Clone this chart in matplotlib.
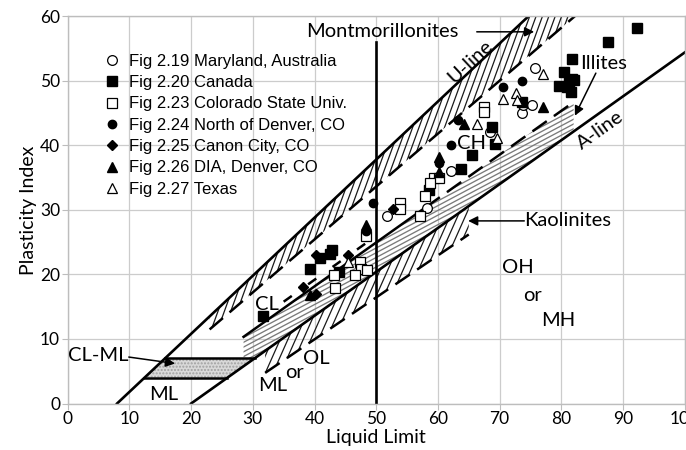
import numpy as np
import matplotlib.pyplot as plt
from matplotlib.patches import Polygon
from matplotlib.collections import LineCollection

plt.rcParams['font.family'] = ['Lato', 'DejaVu Sans']

# points: liquid limit / plasticity index
maryland_ll = [75.7, 73.6, 73.8, 75.2, 68.4, 62.2, 58.2, 51.7]
maryland_pi = [52.0, 45.0, 46.2, 46.2, 42.0, 36.0, 30.3, 29.0]

canada_ll = [92.3, 87.5, 81.8, 80.4, 81.7, 82.0, 79.7, 80.9, 81.5, 81.3, 73.6, 68.7, 69.3,
             65.5, 63.7, 58.6, 42.8, 42.5, 40.9, 39.3, 44.0, 31.7]
canada_pi = [58.2, 56.1, 53.4, 51.4, 50.3, 50.1, 49.2, 49.0, 48.3, 49.9, 46.8, 42.8, 40.2,
             38.5, 36.3, 33.1, 23.8, 23.2, 22.5, 20.8, 20.4, 13.6]

csu_ll = [67.4, 67.4, 59.3, 60.1, 58.7, 57.9, 57.1, 53.9, 53.9, 48.4, 47.4, 47.6, 46.6,
          48.5, 43.3, 43.2]
csu_pi = [46.0, 45.1, 34.9, 34.9, 34.1, 32.1, 29.1, 31.0, 30.2, 26.0, 22.0, 20.9, 19.9,
          20.7, 17.9, 19.9]

north_ll = [73.7, 70.6, 63.2, 62.2, 60.2, 49.5, 48.4]
north_pi = [50.0, 49.0, 44.0, 40.1, 37.2, 31.0, 26.8]

canon_ll = [52.8, 45.5, 40.2, 38.1, 40.2]
canon_pi = [30.1, 23.0, 23.0, 18.0, 16.9]

dia_ll = [77.0, 64.3, 60.2, 60.2, 48.4, 39.3]
dia_pi = [46.0, 43.3, 38.2, 35.8, 27.6, 16.8]

texas_ll = [77.0, 70.6, 72.7, 72.8, 66.3, 69.5, 45.5]
texas_pi = [51.1, 47.2, 48.1, 47.1, 43.3, 41.1, 21.9]

labels = ['Fig 2.19 Maryland, Australia', 'Fig 2.20 Canada', 'Fig 2.23 Colorado State Univ.',
          'Fig 2.24 North of Denver, CO', 'Fig 2.25 Canon City, CO', 'Fig 2.26 DIA, Denver, CO',
          'Fig 2.27 Texas']

# chart lines  PI = slope * (LL - ll0)
u_slope, u_ll0 = 0.9, 8.0
a_slope, a_ll0 = 0.68, 20.0
mont_slope, mont_ll0 = 0.82, 9.0
illite_slope, illite_ll0 = 0.68, 13.3
upper_slope, upper_ll0 = 0.68, 11.8
kao_slope, kao_ll0 = 0.65, 24.7
mont_range = (23.0, 82.2)
illite_range = (28.5, 82.0)
upper_range = (35.0, 50.0)
kao_range = (32.0, 65.0)
clml_pi = (4.0, 7.0)


def line(x, slope, ll0):
    return slope * (np.asarray(x) - ll0)


fig = plt.figure(figsize=(6.86, 4.5), dpi=100)
ax = fig.add_axes([0.0987, 0.1033, 0.8994, 0.8604])
ax.set_xlim(0, 100)
ax.set_ylim(0, 60)

# pixels per data unit, for the hatching
sx = 686 * 0.8994 / 100
sy = 450 * 0.8604 / 60


def hatch(xs, lo, hi, angle, gap, color, lw):
    px = np.r_[xs, xs[::-1]]
    py = np.r_[hi, lo[::-1]]
    patch = Polygon(np.column_stack([px, py]), closed=True, fc='none', ec='none')
    ax.add_patch(patch)
    t = np.radians(angle)
    ux, uy = np.cos(t) / sx, np.sin(t) / sy
    nx, ny = -np.sin(t) / sx, np.cos(t) / sy
    segs = []
    for k in np.arange(-200, 200):
        ox, oy = 50 + k * gap * nx, 30 + k * gap * ny
        segs.append([(ox - 1000 * ux, oy - 1000 * uy), (ox + 1000 * ux, oy + 1000 * uy)])
    lc = LineCollection(segs, colors=color, linewidths=lw, zorder=1)
    ax.add_collection(lc)
    lc.set_clip_path(patch)


# zones
xm = np.linspace(*mont_range, 60)
hatch(xm, line(xm, mont_slope, mont_ll0), line(xm, u_slope, u_ll0), 70, 6.0, '#1a1a1a', 0.9)
xi = np.linspace(*illite_range, 60)
hatch(xi, line(xi, a_slope, a_ll0), line(xi, illite_slope, illite_ll0), 28, 4.2, '#7a7a7a', 0.95)
xk = np.linspace(*kao_range, 60)
hatch(xk, line(xk, kao_slope, kao_ll0), line(xk, a_slope, a_ll0), 66, 7.0, '#1a1a1a', 0.9)

# CL-ML zone
lo_x = np.array([u_ll0 + clml_pi[0] / u_slope, a_ll0 + clml_pi[0] / a_slope])
hi_x = np.array([u_ll0 + clml_pi[1] / u_slope, a_ll0 + clml_pi[1] / a_slope])
ax.add_patch(Polygon([(lo_x[0], clml_pi[0]), (lo_x[1], clml_pi[0]), (hi_x[1], clml_pi[1]),
                      (hi_x[0], clml_pi[1])], closed=True, fc='#d9d9d9', ec='#a0a0a0',
                     hatch='.....', lw=0, zorder=1))
ax.plot(lo_x, [clml_pi[0]] * 2, color='k', lw=1.8, zorder=2)
ax.plot(hi_x, [clml_pi[1]] * 2, color='k', lw=1.8, zorder=2)

# main lines
xu = np.linspace(u_ll0, u_ll0 + 60 / u_slope, 10)
ax.plot(xu, line(xu, u_slope, u_ll0), color='k', lw=1.9, zorder=2)
xa = np.linspace(a_ll0, 100, 10)
ax.plot(xa, line(xa, a_slope, a_ll0), color='k', lw=1.9, zorder=2)
ax.plot([50, 50], [0, 56], color='k', lw=1.9, zorder=2)

dash = (0, (7, 3.5))
xmd = np.linspace(mont_range[0], mont_range[1] + 2, 10)
ax.plot(xmd, line(xmd, mont_slope, mont_ll0), color='k', lw=1.8, ls=dash, zorder=2)
xs_solid = np.linspace(illite_range[0], 58, 10)
ax.plot(xs_solid, line(xs_solid, illite_slope, illite_ll0), color='k', lw=1.8, zorder=2)
xs_dash = np.linspace(58, illite_range[1], 10)
ax.plot(xs_dash, line(xs_dash, illite_slope, illite_ll0), color='k', lw=1.8, ls=dash, zorder=2)
xup = np.linspace(*upper_range, 10)
ax.plot(xup, line(xup, upper_slope, upper_ll0), color='k', lw=1.8, ls=(0, (4, 8)), zorder=2)
xkd = np.linspace(*kao_range, 10)
ax.plot(xkd, line(xkd, kao_slope, kao_ll0), color='k', lw=1.8, ls=dash, zorder=2)

# data
ms = 6.5
ax.plot(maryland_ll, maryland_pi, 'o', ms=7, mfc='white', mec='k', mew=0.9, label=labels[0], zorder=4)
ax.plot(canada_ll, canada_pi, 's', ms=ms, mfc='k', mec='k', label=labels[1], zorder=4)
ax.plot(csu_ll, csu_pi, 's', ms=ms, mfc='white', mec='k', mew=0.9, label=labels[2], zorder=4)
ax.plot(north_ll, north_pi, 'o', ms=6, mfc='k', mec='k', label=labels[3], zorder=4)
ax.plot(canon_ll, canon_pi, 'D', ms=5.5, mfc='k', mec='k', label=labels[4], zorder=4)
ax.plot(dia_ll, dia_pi, '^', ms=7, mfc='k', mec='k', label=labels[5], zorder=4)
ax.plot(texas_ll, texas_pi, '^', ms=7, mfc='white', mec='k', mew=0.9, label=labels[6], zorder=4)

leg = ax.legend(loc='upper left', bbox_to_anchor=(0.044, 0.925), frameon=False, borderpad=0,
                handlelength=1.0, handletextpad=0.55, labelspacing=0.38,
                prop={'family': 'Liberation Sans', 'size': 12})

# annotations
tkw = dict(fontsize=14.5, color='k', zorder=5)
akw = dict(arrowstyle='-|>', color='k', lw=1.1, mutation_scale=14, shrinkA=0, shrinkB=0)
ax.text(38.6, 57.6, 'Montmorillonites', ha='left', va='center', **tkw)
ax.annotate('', xy=(75.6, 57.6), xytext=(66.3, 57.6), arrowprops=akw)
ax.text(65.2, 53.0, 'U-line', ha='center', va='center', rotation=43, **tkw)
ax.text(86.9, 52.7, 'Illites', ha='center', va='center', **tkw)
ax.annotate('', xy=(82.2, 44.6), xytext=(85.6, 51.2), arrowprops=akw)
ax.text(86.3, 42.4, 'A-line', ha='center', va='center', rotation=35.5, **tkw)
ax.text(65.5, 40.3, 'CH', ha='center', va='center', **tkw)
ax.text(32.3, 15.4, 'CL', ha='center', va='center', **tkw)
ax.text(74.0, 28.3, 'Kaolinites', ha='left', va='center', **tkw)
ax.annotate('', xy=(64.9, 28.3), xytext=(74.0, 28.3), arrowprops=akw)
ax.text(73.0, 21.1, 'OH', ha='center', va='center', **tkw)
ax.text(75.4, 16.8, 'or', ha='center', va='center', **tkw)
ax.text(79.5, 12.9, 'MH', ha='center', va='center', **tkw)
ax.text(9.8, 7.4, 'CL-ML', ha='right', va='center', **tkw)
ax.annotate('', xy=(17.4, 6.2), xytext=(9.9, 7.2), arrowprops=akw)
ax.text(15.5, 1.4, 'ML', ha='center', va='center', **tkw)
ax.text(33.3, 2.8, 'ML', ha='center', va='center', **tkw)
ax.text(36.8, 4.8, 'or', ha='center', va='center', **tkw)
ax.text(40.3, 6.9, 'OL', ha='center', va='center', **tkw)

# axes styling
ax.set_xticks(np.arange(0, 101, 10))
ax.set_yticks(np.arange(0, 61, 10))
ax.grid(True, color='#cccccc', lw=0.9)
ax.set_axisbelow(True)
for s in ax.spines.values():
    s.set_color('#bdbdbd')
    s.set_linewidth(1.0)
ax.tick_params(length=4, color='#bdbdbd', pad=1.5, labelsize=12.5)
ax.set_xlabel('Liquid Limit', fontsize=14)
ax.set_ylabel('Plasticity Index', fontsize=14)
ax.xaxis.set_label_coords(0.5, -0.066)
ax.yaxis.set_label_coords(-0.05, 0.5)

fig.savefig('out.png', dpi=100)
